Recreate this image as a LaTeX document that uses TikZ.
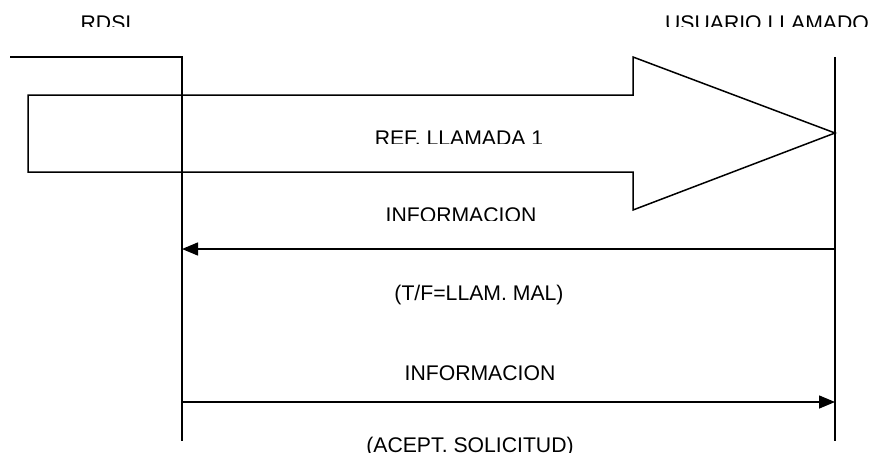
\documentclass[tikz,border=0pt]{standalone}
\usepackage{fontspec}
\setmainfont{Liberation Sans}
\usetikzlibrary{arrows.meta}
\tikzset{
  lbl/.style={inner sep=0pt, anchor=base, font=\fontsize{21.2}{25}\selectfont},
  lifeline/.style={line width=1.1pt},
  msg/.style={line width=1.5pt, -{Triangle[length=16pt,width=13pt]}},
  bigarrow/.style={line width=1.5pt, line join=miter}
}
\begin{document}
\begin{tikzpicture}[x=1pt,y=-1pt]
\useasboundingbox (0,0) rectangle (869,452);
% headers (clipped as in the reference)
\begin{scope}
  \clip (0,0) rectangle (869,27);
  \node[lbl] (rdsi) at (106,30.2) {RDSI};
  \node[lbl] (usu) at (767,30.2) {USUARIO LLAMADO};
\end{scope}
% lifelines
\coordinate (lTop) at (182,57);
\coordinate (lBot) at (182,441);
\coordinate (rTop) at (835,57);
\coordinate (rBot) at (835,441);
\coordinate (lStart) at (10,57);
\draw[lifeline] (lStart) -- (lTop) -- (lBot);
\draw[lifeline] (rTop) -- (rBot);
% big arrow
\draw[bigarrow] (633,95) -- (28,95) -- (28,172) -- (633,172) -- (633,210) -- (835,133) -- (633,57) -- cycle;
\begin{scope}
  \clip (0,0) rectangle (869,143);
  \node[lbl] (ref) at (459,145.2) {REF. LLAMADA 1};
\end{scope}
\begin{scope}
  \clip (0,150) rectangle (869,220);
  \node[lbl] (info1) at (461,222.2) {INFORMACION};
\end{scope}
% message 1
\coordinate (m1r) at (835,249);
\coordinate (m1l) at (182,249);
\draw[msg] (m1r) -- (m1l);
\node[lbl] (tf) at (479,300) {(T/F=LLAM. MAL)};
% message 2
\node[lbl] (info2) at (480,380.2) {INFORMACION};
\coordinate (m2l) at (182,402);
\coordinate (m2r) at (835,402);
\draw[msg] (m2l) -- (m2r);
\node[lbl] (acept) at (470,452.2) {(ACEPT. SOLICITUD)};
\end{tikzpicture}
\end{document}
